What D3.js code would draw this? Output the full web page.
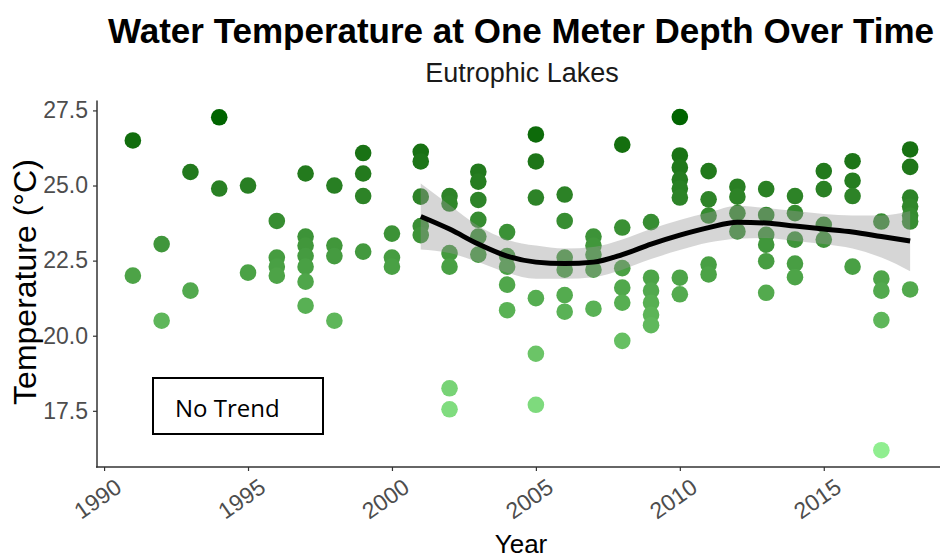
<!DOCTYPE html>
<html>
<head>
<meta charset="utf-8">
<script src="https://cdn.jsdelivr.net/npm/d3@7"></script>
<style>
  body { margin: 0; background: #fff; }
  text { font-family: "Liberation Sans", Arial, sans-serif; }
</style>
</head>
<body>
<svg id="chart" width="940" height="560"></svg>
<script>
// measured temperatures, one list per year
const years = [1991, 1992, 1993, 1994, 1995, 1996, 1997, 1998, 1999, 2000,
  2001, 2002, 2003, 2004, 2005, 2006, 2007, 2008, 2009, 2010,
  2011, 2012, 2013, 2014, 2015, 2016, 2017, 2018];
const temps = [
  [26.5, 22.0],
  [23.05, 20.5],
  [25.45, 21.5],
  [27.27, 24.9],
  [25.0, 22.1],
  [23.82, 22.6, 22.3, 22.0],
  [25.4, 23.3, 23.0, 22.65, 22.3, 21.8, 21.0],
  [25.0, 23.0, 22.65, 20.5],
  [26.08, 25.4, 24.65, 22.8],
  [23.4, 22.6, 22.3],
  [26.12, 25.8, 24.63, 23.65, 23.35],
  [24.65, 24.4, 22.75, 22.3, 18.25, 17.55],
  [25.46, 25.13, 24.52, 23.86, 23.3, 22.7],
  [23.45, 22.65, 22.3, 21.7, 20.85],
  [26.7, 25.8, 24.6, 21.25, 19.4, 17.7],
  [24.7, 23.82, 22.6, 22.2, 21.35, 20.8],
  [23.3, 23.0, 22.7, 22.2, 20.9],
  [26.36, 23.6, 22.25, 21.6, 21.1, 19.83],
  [23.78, 21.93, 21.5, 21.1, 20.7, 20.35],
  [27.28, 26.0, 25.6, 25.2, 24.9, 24.6, 21.93, 21.38],
  [25.48, 24.54, 24.0, 22.37, 22.04],
  [24.96, 24.63, 24.08, 23.47],
  [24.88, 24.02, 23.36, 23.03, 22.48, 21.43],
  [24.65, 24.08, 23.2, 22.4, 21.95],
  [25.48, 24.88, 23.69, 23.2],
  [25.81, 25.16, 24.65, 22.3],
  [23.8, 21.9, 21.5, 20.52, 16.19],
  [26.2, 25.62, 24.6, 24.3, 24.0, 23.8, 21.54]
];

// loess fit
const smoothYears = [2001, 2002, 2003, 2004, 2005, 2006, 2007, 2008, 2009,
  2010, 2011, 2012, 2013, 2014, 2015, 2016, 2017, 2018];
const smoothFit = [23.97, 23.55, 23.05, 22.65, 22.45, 22.4, 22.45, 22.7, 23.05,
  23.35, 23.6, 23.78, 23.75, 23.65, 23.55, 23.45, 23.3, 23.15];
const smoothSe = [1.1, 0.8, 0.6, 0.55, 0.55, 0.5, 0.5, 0.5, 0.5,
  0.5, 0.5, 0.55, 0.5, 0.5, 0.5, 0.55, 0.7, 1.0];

const xTicks = [1990, 1995, 2000, 2005, 2010, 2015];
const yTicks = [17.5, 20.0, 22.5, 25.0, 27.5];

const points = years.flatMap((yr, i) => temps[i].map(t => ({ yr, t })));
const smooth = smoothYears.map((yr, i) => ({ yr, fit: smoothFit[i], se: smoothSe[i] }));

const svg = d3.select('#chart');
const x = d3.scaleLinear().domain([1989.65, 2019.35]).range([94, 949]);
const y = d3.scaleLinear().domain([15.63, 27.83]).range([467, 100.5]);

const tExtent = d3.extent(points, d => d.t);
const color = d3.scaleLinear().domain(tExtent)
  .range(['#90ee90', '#006400']).interpolate(d3.interpolateLab);

svg.append('g')
  .selectAll('circle')
  .data(points)
  .join('circle')
  .attr('cx', d => x(d.yr))
  .attr('cy', d => y(d.t))
  .attr('r', 8.3)
  .attr('fill', d => color(d.t));

svg.append('path')
  .datum(smooth)
  .attr('fill', '#999999')
  .attr('fill-opacity', 0.4)
  .attr('d', d3.area()
    .curve(d3.curveMonotoneX)
    .x(d => x(d.yr))
    .y0(d => y(d.fit - d.se))
    .y1(d => y(d.fit + d.se)));

svg.append('path')
  .datum(smooth)
  .attr('fill', 'none')
  .attr('stroke', '#000')
  .attr('stroke-width', 5)
  .attr('d', d3.line()
    .curve(d3.curveMonotoneX)
    .x(d => x(d.yr))
    .y(d => y(d.fit)));

// axes
const xAxis = svg.append('g')
  .attr('transform', 'translate(0,467)')
  .call(d3.axisBottom(x).tickValues(xTicks).tickSize(4).tickFormat(d3.format('d')));
xAxis.selectAll('text')
  .attr('fill', '#4d4d4d')
  .style('font-size', '23px')
  .attr('text-anchor', 'end')
  .attr('dy', null)
  .attr('y', null)
  .attr('transform', 'translate(9,10) rotate(-35)')
  .attr('dominant-baseline', 'hanging');

const yAxis = svg.append('g')
  .attr('transform', 'translate(97,0)')
  .call(d3.axisLeft(y).tickValues(yTicks).tickSize(4).tickFormat(d3.format('.1f')));
yAxis.selectAll('text')
  .attr('fill', '#4d4d4d')
  .style('font-size', '23px')
  .attr('x', -9);

[xAxis, yAxis].forEach(g => {
  g.select('.domain').attr('stroke', '#333').attr('stroke-width', 1.5);
  g.selectAll('.tick line').attr('stroke', '#333').attr('stroke-width', 1.2);
});
xAxis.select('.domain').attr('d', 'M96,0H949');
yAxis.select('.domain').attr('d', 'M0,100.5V467.5');

// titles
svg.append('text')
  .attr('x', 521).attr('y', 43)
  .attr('text-anchor', 'middle')
  .style('font-size', '35px').style('font-weight', 'bold')
  .text('Water Temperature at One Meter Depth Over Time');

svg.append('text')
  .attr('x', 522).attr('y', 82)
  .attr('text-anchor', 'middle')
  .style('font-size', '27px').attr('fill', '#1a1a1a')
  .text('Eutrophic Lakes');

svg.append('text')
  .attr('x', 521).attr('y', 553)
  .attr('text-anchor', 'middle')
  .style('font-size', '26px')
  .text('Year');

svg.append('text')
  .attr('transform', 'translate(36,282) rotate(-90)')
  .attr('text-anchor', 'middle')
  .style('font-size', '32px')
  .text('Temperature (°C)');

// annotation box
svg.append('rect')
  .attr('x', 153).attr('y', 378)
  .attr('width', 170).attr('height', 56)
  .attr('fill', '#fff').attr('stroke', '#000').attr('stroke-width', 2);

svg.append('text')
  .attr('x', 175).attr('y', 417)
  .style('font-size', '24px')
  .style('font-family', '"Open Sans", "Liberation Sans", sans-serif')
  .text('No Trend');
</script>
</body>
</html>
